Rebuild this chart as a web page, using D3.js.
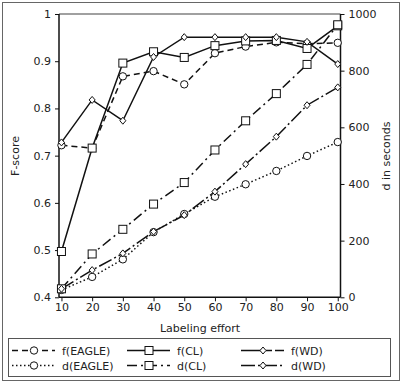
<!DOCTYPE html>
<html>
<head>
<meta charset="utf-8">
<script src="https://cdn.jsdelivr.net/npm/d3@7"></script>
<style>
body { margin: 0; background: #fff; }
text { font-family: "DejaVu Sans", sans-serif; fill: #222; }
</style>
</head>
<body>
<div id="chart"></div>
<script>
var effort = [10, 20, 30, 40, 50, 60, 70, 80, 90, 100];
var fEagle = [0.722, 0.716, 0.868, 0.879, 0.851, 0.917, 0.931, 0.940, 0.937, 0.939];
var fCL    = [0.497, 0.716, 0.896, 0.920, 0.908, 0.933, 0.943, 0.944, 0.927, 0.975];
var fWD    = [0.728, 0.818, 0.774, 0.909, 0.951, 0.951, 0.951, 0.951, 0.941, 0.894];
var dEagle = [26, 72, 134, 230, 294, 355, 399, 446, 499, 548];
var dCL    = [30, 153, 240, 329, 405, 520, 623, 719, 822, 962];
var dWD    = [30, 96, 155, 232, 290, 373, 470, 567, 678, 741];
var leftTicks = [0.4, 0.5, 0.6, 0.7, 0.8, 0.9, 1];
var rightTicks = [0, 200, 400, 600, 800, 1000];

var W = 401, H = 383;
var L = 59, R = 340.5, T = 14, B = 297.3;

var svg = d3.select("#chart").append("svg")
	.attr("width", W)
	.attr("height", H);

// outer frame
svg.append("rect")
	.attr("x", 2.5).attr("y", 2.5)
	.attr("width", 397).attr("height", 378)
	.attr("fill", "none").attr("stroke", "#666").attr("stroke-width", 1);

var x = d3.scaleLinear().domain([9.2, 100.9]).range([L, R]);
var yL = d3.scaleLinear().domain([0.4, 1]).range([B, T]);
var yR = d3.scaleLinear().domain([0, 1000]).range([B, T]);

// axes
var fmtL = function(d) { return d === 1 ? "1" : d3.format(".1f")(d); };
var gx = svg.append("g").attr("transform", "translate(0," + B + ")")
	.call(d3.axisBottom(x).tickValues(effort).tickSize(4).tickPadding(2));
var gl = svg.append("g").attr("transform", "translate(" + L + ",0)")
	.call(d3.axisLeft(yL).tickValues(leftTicks).tickFormat(fmtL).tickSize(4).tickPadding(4));
var gr = svg.append("g").attr("transform", "translate(" + R + ",0)")
	.call(d3.axisRight(yR).tickValues(rightTicks).tickFormat(d3.format("d")).tickSize(4).tickPadding(4));
[gx, gl, gr].forEach(function(g) {
	g.select(".domain").remove();
	g.selectAll("line").attr("stroke", "#111").attr("stroke-width", 1);
	g.selectAll("text").attr("font-size", 11).attr("font-family", "DejaVu Sans").attr("fill", "#222");
});

// spines
svg.append("line").attr("x1", L).attr("x2", R).attr("y1", T).attr("y2", T)
	.attr("stroke", "#808080").attr("stroke-width", 1.5);
svg.append("line").attr("x1", L).attr("x2", L).attr("y1", T).attr("y2", B)
	.attr("stroke", "#111").attr("stroke-width", 1.5);
svg.append("line").attr("x1", R).attr("x2", R).attr("y1", T).attr("y2", B)
	.attr("stroke", "#111").attr("stroke-width", 1.5);
svg.append("line").attr("x1", L).attr("x2", R).attr("y1", B).attr("y2", B)
	.attr("stroke", "#111").attr("stroke-width", 1.5);

// axis titles
svg.append("text").attr("x", 200).attr("y", 332).attr("text-anchor", "middle")
	.attr("font-size", 11).text("Labeling effort");
svg.append("text").attr("transform", "translate(19,156) rotate(-90)").attr("text-anchor", "middle")
	.attr("font-size", 11).text("F-score");
svg.append("text").attr("transform", "translate(390,156) rotate(-90)").attr("text-anchor", "middle")
	.attr("font-size", 11).text("d in seconds");

var series = [
	{name: "f(EAGLE)", vals: fEagle, scale: yL, dash: "6,4", marker: "circle"},
	{name: "d(EAGLE)", vals: dEagle, scale: yR, dash: "1.5,2.5", marker: "circle"},
	{name: "f(CL)", vals: fCL, scale: yL, dash: null, marker: "square"},
	{name: "d(CL)", vals: dCL, scale: yR, dash: "10,4,2,4", marker: "square"},
	{name: "f(WD)", vals: fWD, scale: yL, dash: null, legDash: "22,3,6,3", marker: "diamond"},
	{name: "d(WD)", vals: dWD, scale: yR, dash: "14,3,2,3", marker: "diamond"}
];

function drawMarker(g, kind, cx, cy) {
	if (kind === "circle") {
		g.append("circle").attr("cx", cx).attr("cy", cy).attr("r", 3.7)
			.attr("fill", "#fff").attr("stroke", "#111").attr("stroke-width", 1);
	} else if (kind === "square") {
		g.append("rect").attr("x", cx - 4).attr("y", cy - 4).attr("width", 8).attr("height", 8)
			.attr("fill", "#fff").attr("stroke", "#111").attr("stroke-width", 1);
	} else {
		g.append("path").attr("d", "M" + cx + "," + (cy - 3.5) + "L" + (cx + 3) + "," + cy +
			"L" + cx + "," + (cy + 3.5) + "L" + (cx - 3) + "," + cy + "Z")
			.attr("fill", "#fff").attr("stroke", "#111").attr("stroke-width", 1);
	}
}

var plot = svg.append("g");
series.forEach(function(s) {
	var line = d3.line()
		.x(function(d, i) { return x(effort[i]); })
		.y(function(d) { return s.scale(d); });
	plot.append("path").datum(s.vals)
		.attr("d", line)
		.attr("fill", "none")
		.attr("stroke", "#111")
		.attr("stroke-width", 1.5)
		.attr("stroke-dasharray", s.dash);
});
series.forEach(function(s) {
	s.vals.forEach(function(v, i) {
		drawMarker(plot, s.marker, x(effort[i]), s.scale(v));
	});
});

// legend
var leg = svg.append("g");
leg.append("rect").attr("x", 8.5).attr("y", 338.5).attr("width", 382).attr("height", 38)
	.attr("fill", "#fff").attr("stroke", "#555").attr("stroke-width", 1);
var colX = [12, 127, 241];
series.forEach(function(s, k) {
	var cx = colX[Math.floor(k / 2)], cy = 350.5 + (k % 2) * 15;
	leg.append("line").attr("x1", cx).attr("x2", cx + 43).attr("y1", cy).attr("y2", cy)
		.attr("stroke", "#111").attr("stroke-width", 1.5)
		.attr("stroke-dasharray", s.legDash || s.dash);
	drawMarker(leg, s.marker, cx + 22, cy);
	leg.append("text").attr("x", cx + 50).attr("y", cy + 4)
		.attr("font-size", 11).text(s.name);
});
</script>
</body>
</html>
